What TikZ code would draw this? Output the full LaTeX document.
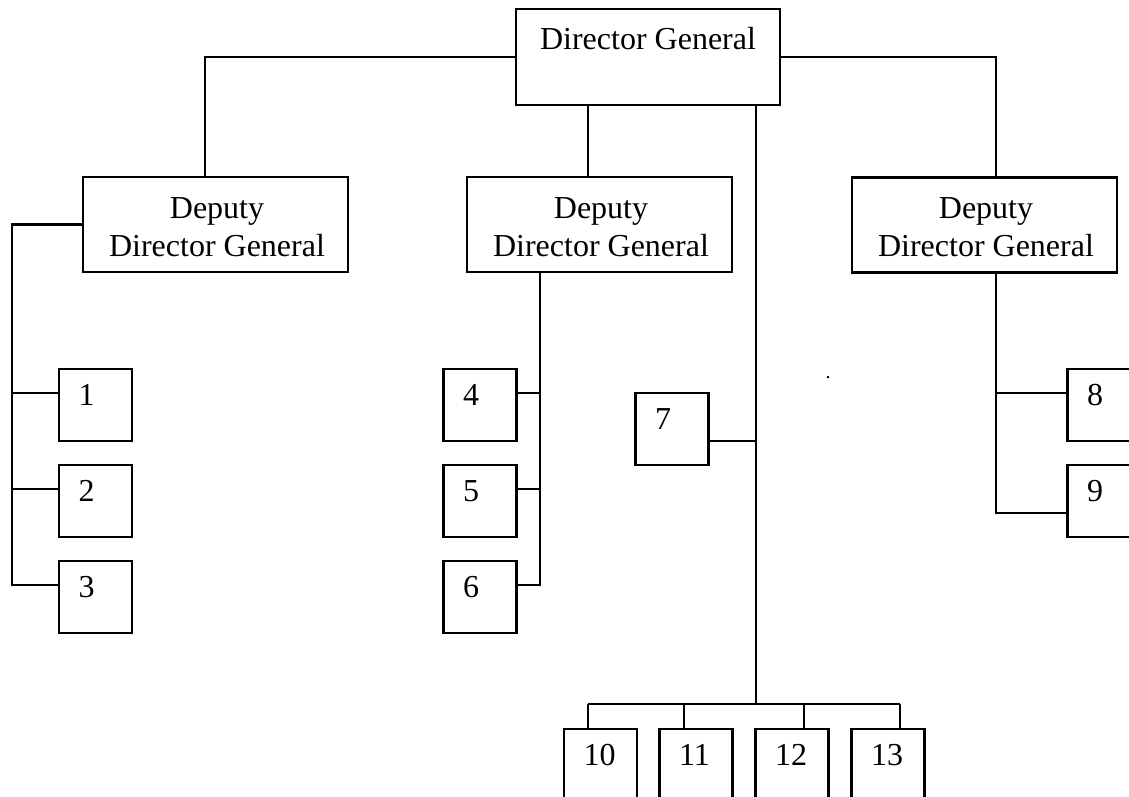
\documentclass[tikz,border=0pt]{standalone}
\usepackage{fontspec}
\setmainfont{Liberation Serif}
\begin{document}
\begin{tikzpicture}[x=0.5pt,y=-0.5pt,line width=1.1pt,
  bigbox/.style={draw, minimum width=132.5pt, minimum height=47.5pt, inner sep=0pt, outer sep=0pt},
  smallbox/.style={draw, minimum width=36.5pt, minimum height=36pt, inner sep=0pt, outer sep=0pt},
  lbl/.style={anchor=base, inner sep=0pt, align=center, font=\fontsize{16}{19}\selectfont},
  num/.style={anchor=base west, inner sep=0pt, font=\fontsize{16}{19}\selectfont},
  ]
\useasboundingbox (0,0) rectangle (1129,797);
\clip (0,0) rectangle (1129,797);
% boxes
\node[bigbox, minimum width=132pt, minimum height=48pt] (dg) at (648,57) {};
\node[bigbox] (d1) at (215.5,224.5) {};
\node[bigbox] (d2) at (599.5,224.5) {};
\node[bigbox] (d3) at (984.5,225) {};
\node[smallbox] (b1) at (95.5,405) {};
\node[smallbox] (b2) at (95.5,501) {};
\node[smallbox] (b3) at (95.5,597) {};
\node[smallbox] (b4) at (480,405) {};
\node[smallbox] (b5) at (480,501) {};
\node[smallbox] (b6) at (480,597) {};
\node[smallbox] (b7) at (672,429) {};
\node[smallbox] (b8) at (1104,405) {};
\node[smallbox] (b9) at (1104,501) {};
\node[smallbox] (b10) at (600.5,765) {};
\node[smallbox] (b11) at (696,765) {};
\node[smallbox] (b12) at (792,765) {};
\node[smallbox] (b13) at (888,765) {};
% texts
\node[lbl] (tdg) at (648,50) {Director General};
\node[lbl] (td1) at (217,256.5) {Deputy\\Director General};
\node[lbl] (td2) at (601,256.5) {Deputy\\Director General};
\node[lbl] (td3) at (986,256.5) {Deputy\\Director General};
\foreach \n/\x/\y in {1/95.5/405,2/95.5/501,3/95.5/597,4/480/405,5/480/501,6/480/597,7/672/429,8/1104/405,9/1104/501,10/600.5/765,11/696/765,12/792/765,13/888/765}
  \node[num] (t\n) at (\x-18,\y) {\n};
\node[lbl, font=\fontsize{10}{12}\selectfont] (dot) at (828,378.5) {.};
% junction coordinates
\coordinate (la) at (205,57);
\coordinate (ra) at (996,57);
\coordinate (l1) at (12,393);
\coordinate (l2) at (12,489);
\coordinate (l3) at (12,585);
\coordinate (m1) at (540,393);
\coordinate (m2) at (540,489);
\coordinate (m3) at (540,585);
\coordinate (c7) at (756,441);
\coordinate (bus) at (756,704);
\coordinate (r1) at (996,393);
\coordinate (r2) at (996,513);
% connectors
\draw (dg.west |- la) -- (la) -- (la |- d1.north);
\draw (dg.east |- ra) -- (ra) -- (ra |- d3.north);
\draw (dg.south -| 588,0) -- (d2.north -| 588,0);
\draw (dg.south -| bus) -- (bus);
\draw (d1.west) -| (l3) -- (l3 -| b3.west);
\draw (l1) -- (l1 -| b1.west);
\draw (l2) -- (l2 -| b2.west);
\draw (d2.south -| m3) -- (m3) -- (m3 -| b6.east);
\draw (m1) -- (m1 -| b4.east);
\draw (m2) -- (m2 -| b5.east);
\draw (c7 -| b7.east) -- (c7);
\draw (d3.south -| r2) -- (r2) -- (r2 -| b9.west);
\draw (r1) -- (r1 -| b8.west);
\draw (588,704) -- (900,704);
\draw (588,704) -- (b10.north -| 588,0);
\draw (684,704) -- (b11.north -| 684,0);
\draw (804,704) -- (b12.north -| 804,0);
\draw (900,704) -- (b13.north -| 900,0);
\end{tikzpicture}
\end{document}
